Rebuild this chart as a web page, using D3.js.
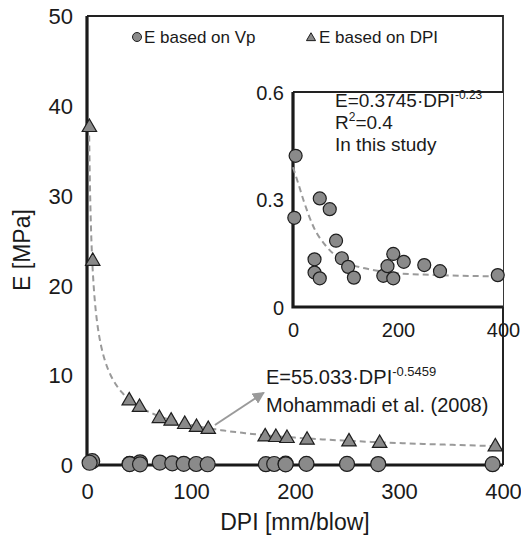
<!DOCTYPE html>
<html>
<head>
<meta charset="utf-8">
<script src="https://cdn.jsdelivr.net/npm/d3@7"></script>
<style>
  body { margin: 0; background: #fff; }
  text { font-family: "Liberation Sans", Arial, sans-serif; fill: #1a1a1a; }
</style>
</head>
<body>
<script>
// E from the DPI correlation (triangles)
const dpiDPI = [2.3, 5.5, 40.6, 50.5, 69.6, 80.9, 94, 105.3, 116.6, 171.3, 181.6, 192.3, 211.6, 251.9, 281.4, 392.6];
const eDPI = [37.6, 22.7, 7.16, 6.43, 5.19, 4.9, 4.53, 4.2, 3.98, 3.15, 3.08, 2.97, 2.78, 2.59, 2.42, 2.04];

// E from Vp (circles), this study
const dpiVp = [5, 2.5, 51, 70, 82, 41, 41, 51, 93, 105, 116, 172, 180, 191, 191, 211, 250, 280, 390];
const eVp = [0.422, 0.249, 0.303, 0.273, 0.185, 0.133, 0.096, 0.080, 0.136, 0.112, 0.082, 0.087, 0.114, 0.148, 0.080, 0.126, 0.117, 0.100, 0.089];

// power fit written on the chart (Mohammadi et al.)
const fitDPI = { a: 55.033, b: -0.5459, from: 2.1, to: 390 };

// dashed fit line of the inset
const fitVpDPI = [0, 10, 20, 39, 64, 105, 150, 200, 280, 400];
const fitVpE = [0.39, 0.345, 0.298, 0.224, 0.168, 0.123, 0.104, 0.094, 0.089, 0.085];

const xTicks = [0, 100, 200, 300, 400];
const yTicks = [0, 10, 20, 30, 40, 50];
const xTicksInset = [0, 200, 400];
const yTicksInset = [0, 0.3, 0.6];

const svg = d3.select("body").append("svg")
    .attr("width", 521)
    .attr("height", 541);

const markFill = "#8a8a8a",
    markStroke = "#1e1e1e",
    fitColor = "#9a9a9a";

// ---- main chart
const x = d3.scaleLinear().domain([0, 400]).range([87, 503]);
const y = d3.scaleLinear().domain([0, 50]).range([465, 16]);

// frame: thin top/right, thick left/bottom
svg.append("path")
    .attr("d", `M${x(0)},${y(50)}H${x(400)}V${y(0)}`)
    .attr("fill", "none")
    .attr("stroke", "#222")
    .attr("stroke-width", 1.8);
svg.append("path")
    .attr("d", `M${x(0)},${y(50)}V${y(0)}H${x(400)}`)
    .attr("fill", "none")
    .attr("stroke", "#1a1a1a")
    .attr("stroke-width", 3.2);

svg.append("g")
    .attr("transform", `translate(${x(0) - 14},0)`)
    .call(d3.axisLeft(y).tickValues(yTicks).tickSize(0).tickPadding(0))
    .call(g => g.select(".domain").remove())
    .selectAll("text")
    .style("font-size", "22px")
    .attr("dy", "0.35em");

svg.append("g")
    .attr("transform", `translate(0,${y(0) + 17})`)
    .call(d3.axisBottom(x).tickValues(xTicks).tickSize(0).tickPadding(0))
    .call(g => g.select(".domain").remove())
    .selectAll("text")
    .style("font-size", "22px")
    .attr("dy", "0.75em");

svg.append("text")
    .attr("x", 295)
    .attr("y", 530)
    .attr("text-anchor", "middle")
    .style("font-size", "23px")
    .text("DPI [mm/blow]");

svg.append("text")
    .attr("transform", "translate(30,250) rotate(-90)")
    .attr("text-anchor", "middle")
    .style("font-size", "23px")
    .text("E [MPa]");

// fitted curve for DPI-based E
const fitPts = d3.range(0, 1.0001, 0.004).map(t => {
    const d = fitDPI.from * Math.pow(fitDPI.to / fitDPI.from, t);
    return [d, fitDPI.a * Math.pow(d, fitDPI.b)];
});

svg.append("path")
    .datum(fitPts)
    .attr("d", d3.line().x(d => x(d[0])).y(d => y(d[1])))
    .attr("fill", "none")
    .attr("stroke", fitColor)
    .attr("stroke-width", 2)
    .attr("stroke-dasharray", "6,4");

// arrow to the equation
const arrowFrom = [123, 4.45], arrowTo = [170, 8.05];
svg.append("defs").append("marker")
    .attr("id", "arrowhead")
    .attr("viewBox", "0 0 10 10")
    .attr("refX", 9)
    .attr("refY", 5)
    .attr("markerWidth", 6)
    .attr("markerHeight", 6)
    .attr("markerUnits", "strokeWidth")
    .attr("orient", "auto")
    .append("path")
    .attr("d", "M0,0L10,5L0,10z")
    .attr("fill", fitColor);

svg.append("line")
    .attr("x1", x(arrowFrom[0]))
    .attr("y1", y(arrowFrom[1]))
    .attr("x2", x(arrowTo[0]))
    .attr("y2", y(arrowTo[1]))
    .attr("stroke", fitColor)
    .attr("stroke-width", 2)
    .attr("marker-end", "url(#arrowhead)");

const eq1 = svg.append("text")
    .attr("x", 266)
    .attr("y", 384)
    .style("font-size", "20px");
eq1.append("tspan").text("E=55.033·DPI");
eq1.append("tspan").attr("dy", -8).style("font-size", "13px").text("-0.5459");

svg.append("text")
    .attr("x", 266)
    .attr("y", 412)
    .style("font-size", "20px")
    .text("Mohammadi et al. (2008)");

const tri = d3.symbol().type(d3.symbolTriangle).size(90);

svg.append("g").selectAll("circle")
    .data(dpiVp.map((d, i) => ({ dpi: d, e: eVp[i] })))
    .join("circle")
    .attr("cx", d => x(d.dpi))
    .attr("cy", d => y(d.e))
    .attr("r", 7.5)
    .attr("fill", markFill)
    .attr("stroke", markStroke)
    .attr("stroke-width", 1.2);

svg.append("g").selectAll("path")
    .data(dpiDPI.map((d, i) => ({ dpi: d, e: eDPI[i] })))
    .join("path")
    .attr("d", tri)
    .attr("transform", d => `translate(${x(d.dpi)},${y(d.e)})`)
    .attr("fill", markFill)
    .attr("stroke", markStroke)
    .attr("stroke-width", 1.2);

// legend
const legend = svg.append("g");
legend.append("circle")
    .attr("cx", 137).attr("cy", 37).attr("r", 4.5)
    .attr("fill", markFill).attr("stroke", markStroke);
legend.append("text")
    .attr("x", 144).attr("y", 43)
    .style("font-size", "17px")
    .text("E based on Vp");
legend.append("path")
    .attr("d", d3.symbol().type(d3.symbolTriangle).size(36))
    .attr("transform", "translate(311,38)")
    .attr("fill", markFill).attr("stroke", markStroke);
legend.append("text")
    .attr("x", 319).attr("y", 43)
    .style("font-size", "17px")
    .text("E based on DPI");

// ---- inset
const xi = d3.scaleLinear().domain([0, 400]).range([293, 503]);
const yi = d3.scaleLinear().domain([0, 0.6]).range([307, 92]);

svg.append("rect")
    .attr("x", xi(0)).attr("y", yi(0.6))
    .attr("width", xi(400) - xi(0))
    .attr("height", yi(0) - yi(0.6))
    .attr("fill", "#fff");

svg.append("line")
    .attr("x1", xi(0)).attr("x2", xi(400))
    .attr("y1", yi(0.6)).attr("y2", yi(0.6))
    .attr("stroke", "#222").attr("stroke-width", 1.8);
svg.append("path")
    .attr("d", `M${xi(0)},${yi(0.6)}V${yi(0)}H${xi(400)}`)
    .attr("fill", "none")
    .attr("stroke", "#1a1a1a")
    .attr("stroke-width", 3.2);

svg.append("g")
    .attr("transform", `translate(${xi(0) - 9},0)`)
    .call(d3.axisLeft(yi).tickValues(yTicksInset).tickFormat(d => d === 0 ? "0" : d3.format(".1f")(d)).tickSize(0).tickPadding(0))
    .call(g => g.select(".domain").remove())
    .selectAll("text")
    .style("font-size", "20px")
    .attr("dy", "0.35em");

svg.append("g")
    .attr("transform", `translate(0,${yi(0) + 15})`)
    .call(d3.axisBottom(xi).tickValues(xTicksInset).tickSize(0).tickPadding(0))
    .call(g => g.select(".domain").remove())
    .selectAll("text")
    .style("font-size", "20px")
    .attr("dy", "0.75em");

svg.append("path")
    .datum(fitVpDPI.map((d, i) => [d, fitVpE[i]]))
    .attr("d", d3.line().x(d => xi(d[0])).y(d => yi(d[1])).curve(d3.curveMonotoneX))
    .attr("fill", "none")
    .attr("stroke", fitColor)
    .attr("stroke-width", 2)
    .attr("stroke-dasharray", "6,4");

svg.append("g").selectAll("circle")
    .data(dpiVp.map((d, i) => ({ dpi: d, e: eVp[i] })))
    .join("circle")
    .attr("cx", d => xi(d.dpi))
    .attr("cy", d => yi(d.e))
    .attr("r", 6.5)
    .attr("fill", markFill)
    .attr("stroke", markStroke)
    .attr("stroke-width", 1.2);

const eq2 = svg.append("text")
    .attr("x", 335).attr("y", 107)
    .style("font-size", "19px");
eq2.append("tspan").text("E=0.3745·DPI");
eq2.append("tspan").attr("dy", -8).style("font-size", "12px").text("-0.23");

const r2 = svg.append("text")
    .attr("x", 335).attr("y", 129)
    .style("font-size", "19px");
r2.append("tspan").text("R");
r2.append("tspan").attr("dy", -8).style("font-size", "12px").text("2");
r2.append("tspan").attr("dy", 8).text("=0.4");

svg.append("text")
    .attr("x", 335).attr("y", 151)
    .style("font-size", "19px")
    .text("In this study");

// main frame right edge runs over the inset's last tick label
svg.append("line")
    .attr("x1", x(400)).attr("x2", x(400))
    .attr("y1", yi(0)).attr("y2", y(0))
    .attr("stroke", "#222").attr("stroke-width", 1.8);
</script>
</body>
</html>
